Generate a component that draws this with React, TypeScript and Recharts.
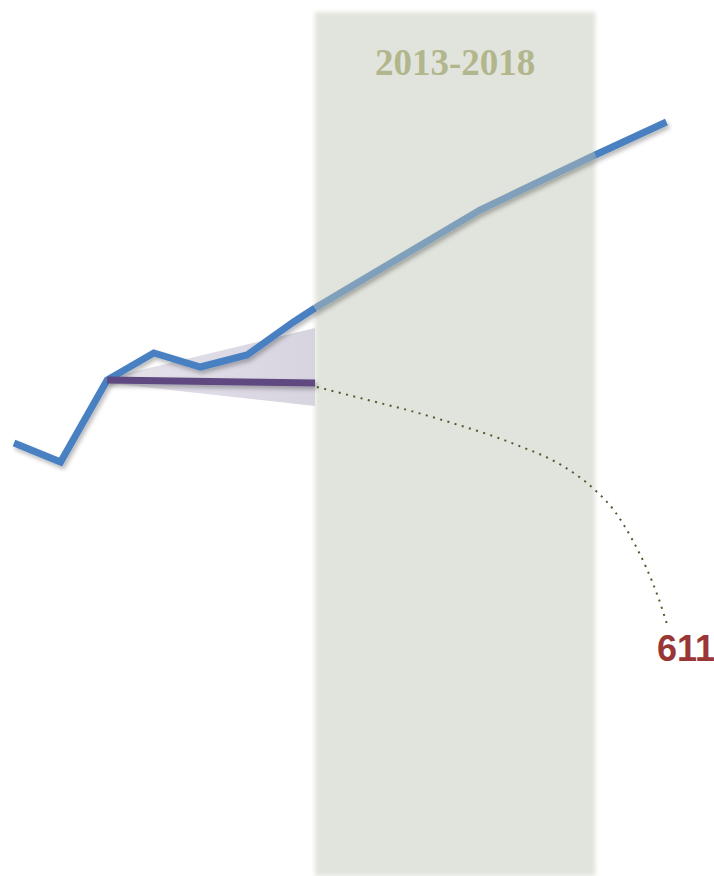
import {
  ComposedChart, Line, Area, XAxis, YAxis, ReferenceArea, ReferenceDot,
} from 'recharts';

// values (y units: arbitrary, higher = up)
const trendYears = [2006, 2007, 2008, 2009, 2010, 2011, 2012, 2012.46];
const trendValues = [433, 414, 496, 523, 509, 521, 554, 568];
// part of the same line seen through the shaded band
const bandTrendYears = [2012.46, 2016, 2018.47];
const bandTrendValues = [568, 666, 721];
const lateTrendYears = [2018.47, 2020];
const lateTrendValues = [721, 754];

const flatYears = [2008, 2012.46];
const flatValues = [496, 493];

const fanYears = [2008, 2012.46];
const fanLow = [493, 470];
const fanHigh = [498, 548];

const projYears = [2012.5, 2013.68, 2014.52, 2015.33, 2016.79, 2017.74, 2018.42, 2018.9, 2019.26, 2019.56, 2019.82, 2020.03];
const projValues = [489, 475, 465, 454, 431, 411, 388, 364, 337, 309, 279, 249];

const bandStart = 2012.46;
const bandEnd = 2018.47;
const bandLabel = '2013-2018';
const endLabel = '611';

const toRows = (xs: number[], vs: number[]) => xs.map((y, i) => ({ year: y, v: vs[i] }));
const trendData = toRows(trendYears, trendValues);
const bandTrendData = toRows(bandTrendYears, bandTrendValues);
const lateTrendData = toRows(lateTrendYears, lateTrendValues);
const flatData = toRows(flatYears, flatValues);
const projData = toRows(projYears, projValues);
const fanData = fanYears.map((y, i) => ({ year: y, range: [fanLow[i], fanHigh[i]] }));

export default function App() {
  const lineCommon = {
    dataKey: 'v',
    type: 'linear' as const,
    dot: false,
    activeDot: false,
    isAnimationActive: false,
  };
  return (
    <div style={{ position: 'absolute', left: 0, top: 0 }}>
      <ComposedChart width={714} height={876} margin={{ top: 0, right: 0, bottom: 0, left: 0 }}>
        <defs>
          <filter id="sh" filterUnits="userSpaceOnUse" x="0" y="0" width="714" height="876">
            <feDropShadow dx="2" dy="3" stdDeviation="2" floodColor="#000" floodOpacity="0.28" />
          </filter>
          <filter id="soft" filterUnits="userSpaceOnUse" x="0" y="0" width="714" height="876">
            <feGaussianBlur stdDeviation="2" />
          </filter>
          <linearGradient id="fan" x1="0" y1="0" x2="1" y2="0">
            <stop offset="0%" stopColor="#e6e3ec" />
            <stop offset="100%" stopColor="#d7d4e0" />
          </linearGradient>
        </defs>
        <XAxis type="number" dataKey="year" domain={[2005.7, 2021.02]} hide allowDataOverflow />
        <YAxis type="number" domain={[0, 876]} hide allowDataOverflow />
        <ReferenceArea
          x1={bandStart}
          x2={bandEnd}
          y1={0}
          y2={864}
          fill="#e1e4dc"
          fillOpacity={1}
          stroke="none"
          filter="url(#soft)"
          label={(p: any) => {
            const vb = p.viewBox;
            return (
              <text
                x={vb.x + vb.width / 2}
                y={vb.y + 63}
                textAnchor="middle"
                fontFamily="Liberation Serif"
                fontWeight="bold"
                fontSize={37}
                fill="#b2b68c"
              >
                {bandLabel}
              </text>
            );
          }}
        />
        <Area
          data={fanData}
          dataKey="range"
          type="linear"
          stroke="none"
          fill="url(#fan)"
          fillOpacity={1}
          activeDot={false}
          isAnimationActive={false}
        />
        <Line {...lineCommon} data={trendData} stroke="#4a80c1" strokeWidth={7} filter="url(#sh)" />
        <Line {...lineCommon} data={bandTrendData} stroke="#7f9fbb" strokeWidth={7} filter="url(#sh)" />
        <Line {...lineCommon} data={lateTrendData} stroke="#4a80c1" strokeWidth={7} filter="url(#sh)" />
        <Line {...lineCommon} data={flatData} stroke="#5e4a80" strokeWidth={7} strokeLinecap="butt" filter="url(#sh)" />
        <Line
          {...lineCommon}
          data={projData}
          type="monotone"
          stroke="#4d5b30"
          strokeWidth={2}
          strokeDasharray="2 5.5"
        />
        <ReferenceDot
          x={2020.42}
          y={228}
          r={0}
          fill="none"
          stroke="none"
          label={{
            value: endLabel,
            position: 'center',
            fill: '#993636',
            fontSize: 36,
            fontWeight: 'bold',
            fontFamily: 'Liberation Sans',
          }}
        />
      </ComposedChart>
    </div>
  );
}
